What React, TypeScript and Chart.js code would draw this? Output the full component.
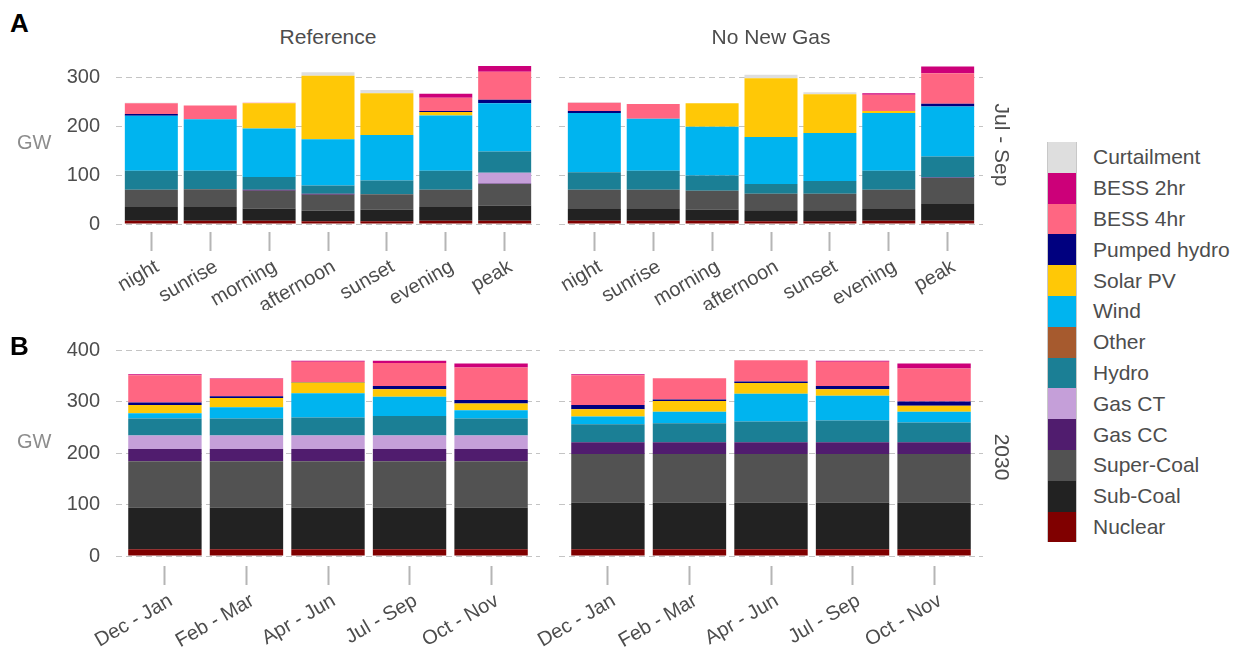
import React, { useEffect, useRef } from 'react';
import { Chart, registerables } from 'chart.js';
Chart.register(...registerables);

// Series, bottom of stack first
const SERIES = ['Nuclear', 'Sub-Coal', 'Super-Coal', 'Gas CC', 'Gas CT', 'Hydro', 'Other', 'Wind', 'Solar PV', 'Pumped hydro', 'BESS 4hr', 'BESS 2hr', 'Curtailment'];
const COLORS = ['#800000', '#222222', '#525252', '#501c6e', '#c59fd9', '#1b7f95', '#a65a2e', '#00b4ef', '#ffc806', '#00007f', '#ff6682', '#cc0079', '#dedede'];

const timeSlices = ['night', 'sunrise', 'morning', 'afternoon', 'sunset', 'evening', 'peak'];
const seasons = ['Dec - Jan', 'Feb - Mar', 'Apr - Jun', 'Jul - Sep', 'Oct - Nov'];
const ticksA = [0, 100, 200, 300];
const ticksB = [0, 100, 200, 300, 400];

// Panel A, Reference (rows follow SERIES order)
const refSlices = [
  [7, 7, 7, 6, 6, 7, 7],
  [28, 28, 25, 21, 23, 28, 31],
  [35, 36, 36, 33, 32, 35, 44],
  [0, 0, 2, 2, 0, 0, 1],
  [0, 0, 0, 0, 0, 0, 22],
  [39, 38, 26, 17, 28, 39, 43],
  [0, 0, 0, 0, 0, 0, 0],
  [112, 105, 99, 94, 93, 113, 99],
  [0, 0, 52, 130, 85, 7, 0],
  [4, 0, 0, 0, 0, 2, 7],
  [22, 28, 1, 0, 0, 27, 57],
  [0, 0, 0, 0, 0, 8, 12],
  [1, 0, 0, 7, 7, 0, 0],
];

// Panel A, No New Gas
const nngSlices = [
  [7, 7, 7, 6, 6, 7, 7],
  [24, 24, 22, 22, 22, 24, 34],
  [39, 39, 39, 34, 34, 39, 53],
  [0, 0, 0, 0, 0, 0, 1],
  [0, 0, 0, 0, 0, 0, 0],
  [36, 39, 31, 20, 26, 39, 43],
  [0, 0, 0, 0, 0, 0, 0],
  [121, 106, 100, 96, 98, 118, 102],
  [0, 0, 48, 120, 79, 4, 0],
  [4, 0, 0, 0, 0, 0, 6],
  [17, 30, 0, 0, 0, 33, 62],
  [0, 0, 0, 0, 0, 3, 14],
  [1, 0, 0, 7, 4, 0, 0],
];

// Panel B, Reference
const refSeasons = [
  [13, 13, 13, 13, 13],
  [81, 81, 81, 81, 81],
  [90, 90, 90, 90, 90],
  [24, 24, 24, 24, 24],
  [26, 26, 26, 26, 26],
  [33, 33, 35, 38, 33],
  [0, 0, 0, 0, 0],
  [10, 22, 47, 37, 16],
  [16, 18, 21, 15, 13],
  [5, 3, 1, 6, 7],
  [53, 34, 39, 45, 63],
  [2, 1, 2, 4, 8],
  [0, 0, 0, 0, 0],
];

// Panel B, No New Gas
const nngSeasons = [
  [13, 13, 13, 13, 13],
  [91, 91, 91, 91, 91],
  [94, 94, 94, 94, 94],
  [23, 23, 23, 23, 23],
  [0, 0, 0, 0, 0],
  [35, 37, 40, 42, 38],
  [0, 0, 0, 0, 0],
  [15, 22, 54, 48, 21],
  [14, 21, 21, 13, 12],
  [8, 3, 3, 6, 8],
  [58, 41, 41, 47, 64],
  [2, 0, 0, 2, 10],
  [0, 0, 0, 0, 0],
];

const FONT = '"Liberation Sans", Arial, Helvetica, sans-serif';

type PanelProps = {
  left: number; top: number; width: number; height: number;
  cats: string[]; values: number[][]; yMin: number; yMax: number; yTicks: number[];
  showY: boolean; padL: number; padR: number; padT: number; yWidth: number; xHeight: number;
};

function Panel(p: PanelProps) {
  const ref = useRef<HTMLCanvasElement>(null);
  useEffect(() => {
    const chart = new Chart(ref.current!, {
      type: 'bar',
      data: {
        datasets: SERIES.map((name, si) => ({
          label: name,
          data: p.values[si].map((v, i) => ({ x: i, y: v })),
          backgroundColor: COLORS[si],
          borderWidth: 0,
          barPercentage: 0.9,
          categoryPercentage: 1,
        })),
      },
      options: {
        animation: false,
        responsive: false,
        maintainAspectRatio: false,
        layout: { padding: { left: p.padL, right: p.padR, top: p.padT, bottom: 0 } },
        plugins: { legend: { display: false }, tooltip: { enabled: false } },
        scales: {
          x: {
            type: 'linear',
            stacked: true,
            offset: false,
            bounds: 'data',
            min: -0.6,
            max: p.cats.length - 0.4,
            afterBuildTicks: (s: any) => { s.ticks = p.cats.map((_, i) => ({ value: i })); },
            afterFit: (s: any) => { s.height = p.xHeight; s.paddingLeft = 0; s.paddingRight = 0; s.paddingTop = 0; s.paddingBottom = 0; },
            grid: { offset: false, drawOnChartArea: false, drawTicks: true, tickLength: 19, tickColor: '#b5b5b5', tickWidth: 2 },
            border: { display: false },
            ticks: {
              autoSkip: false, minRotation: 30, maxRotation: 30, padding: 4, labelOffset: 6,
              color: '#4d4d4d', font: { family: FONT, size: 20 },
              callback: (v: any) => p.cats[Math.round(v as number)],
            },
          },
          y: {
            stacked: true,
            min: p.yMin,
            max: p.yMax,
            afterBuildTicks: (s: any) => { s.ticks = p.yTicks.map((v) => ({ value: v })); },
            afterFit: (s: any) => { s.width = p.yWidth; s.paddingTop = 0; s.paddingBottom = 0; s.paddingLeft = 0; s.paddingRight = 0; },
            grid: { color: '#c4c4c4', lineWidth: 1, drawTicks: false },
            border: { display: false, dash: [6, 4] },
            ticks: {
              display: p.showY, padding: 16, color: '#4d4d4d',
              font: { family: FONT, size: 20 },
            },
          },
        },
      },
    } as any);
    return () => chart.destroy();
  }, []);
  return (
    <canvas
      ref={ref}
      width={p.width}
      height={p.height}
      style={{ position: 'absolute', left: p.left, top: p.top, width: p.width, height: p.height }}
    />
  );
}

const txt: React.CSSProperties = { position: 'absolute', fontFamily: FONT, color: '#4d4d4d', whiteSpace: 'nowrap' };

export default function App() {
  const legendItems = SERIES.map((s, i) => ({ s, c: COLORS[i] })).reverse();
  return (
    <div style={{ position: 'absolute', left: 0, top: 0, width: 1241, height: 656, background: '#fff', overflow: 'hidden' }}>
      <Panel left={0} top={50} width={545} height={260} cats={timeSlices} values={refSlices}
        yMin={-16.2} yMax={339.2} yTicks={ticksA} showY={true} padL={0} padR={5} padT={8} yWidth={116} xHeight={78} />
      <Panel left={500} top={50} width={490} height={260} cats={timeSlices} values={nngSlices}
        yMin={-16.2} yMax={339.2} yTicks={ticksA} showY={false} padL={59} padR={7} padT={8} yWidth={0} xHeight={78} />
      <Panel left={0} top={340} width={545} height={316} cats={seasons} values={refSeasons}
        yMin={-19.4} yMax={403.9} yTicks={ticksB} showY={true} padL={0} padR={5} padT={8} yWidth={116} xHeight={90} />
      <Panel left={500} top={340} width={490} height={316} cats={seasons} values={nngSeasons}
        yMin={-19.4} yMax={403.9} yTicks={ticksB} showY={false} padL={59} padR={7} padT={8} yWidth={0} xHeight={90} />

      <div style={{ ...txt, left: 10, top: 10, fontSize: 26, lineHeight: '26px', fontWeight: 'bold', color: '#000' }}>A</div>
      <div style={{ ...txt, left: 10, top: 333, fontSize: 26, lineHeight: '26px', fontWeight: 'bold', color: '#000' }}>B</div>

      <div style={{ ...txt, left: 328, top: 26, fontSize: 21, lineHeight: '21px', transform: 'translateX(-50%)' }}>Reference</div>
      <div style={{ ...txt, left: 771, top: 26, fontSize: 21, lineHeight: '21px', transform: 'translateX(-50%)' }}>No New Gas</div>

      <div style={{ ...txt, left: 17, top: 132, fontSize: 20, lineHeight: '20px', color: '#8c8c8c' }}>GW</div>
      <div style={{ ...txt, left: 17, top: 431, fontSize: 20, lineHeight: '20px', color: '#8c8c8c' }}>GW</div>

      <div style={{ ...txt, left: 1002, top: 145, fontSize: 21, lineHeight: '21px', transform: 'translate(-50%, -50%) rotate(90deg)' }}>Jul - Sep</div>
      <div style={{ ...txt, left: 1002, top: 457, fontSize: 21, lineHeight: '21px', transform: 'translate(-50%, -50%) rotate(90deg)' }}>2030</div>

      {legendItems.map((it, i) => (
        <div key={it.s} style={{ position: 'absolute', left: 1047, top: 142 + i * 30.8, height: 30.8, display: 'flex', alignItems: 'center' }}>
          <div style={{ width: 30, height: 30.8, background: it.c, boxSizing: 'border-box', borderLeft: '1px solid #c8c8c8', borderRight: '1px solid #c8c8c8' }} />
          <div style={{ fontFamily: FONT, fontSize: 21, color: '#4d4d4d', marginLeft: 16, whiteSpace: 'nowrap' }}>{it.s}</div>
        </div>
      ))}
    </div>
  );
}
